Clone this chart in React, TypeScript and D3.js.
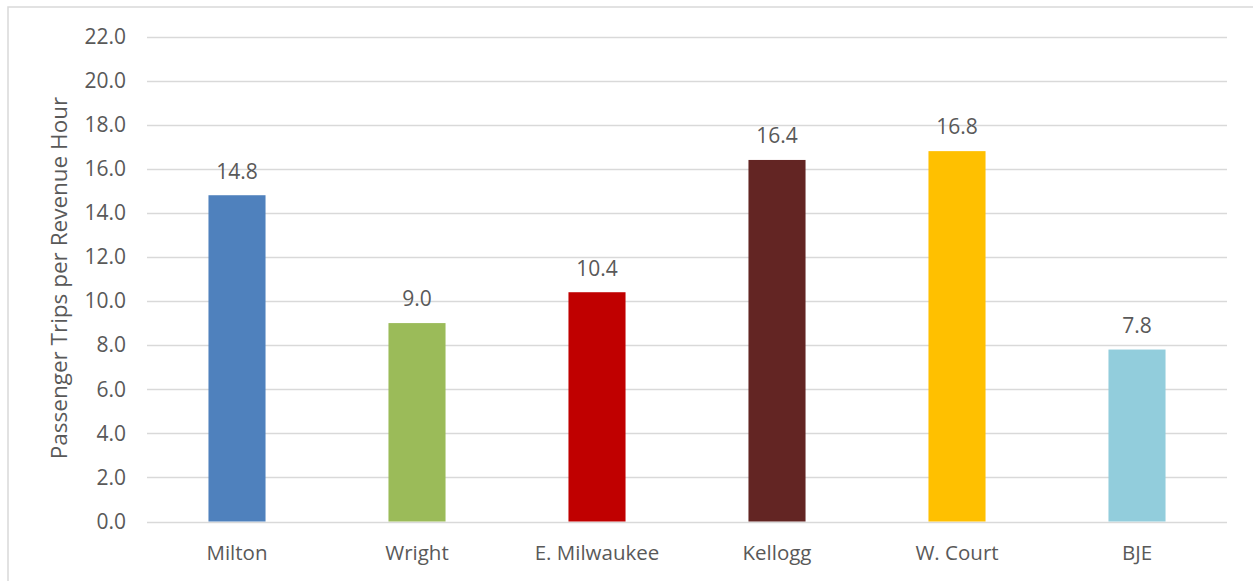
import React from "react";
import * as d3 from "d3";

const categories = ["Milton", "Wright", "E. Milwaukee", "Kellogg", "W. Court", "BJE"];
const values = [14.8, 9.0, 10.4, 16.4, 16.8, 7.8];
const colors = ["#4F81BD", "#9BBB59", "#C00000", "#632523", "#FFC000", "#92CDDC"];
const yTicks = [0, 2, 4, 6, 8, 10, 12, 14, 16, 18, 20, 22];
const yTitle = "Passenger Trips per Revenue Hour";

const W = 1253;
const H = 581;
const left = 147;
const right = 1227;
const top = 36.5;
const bottom = 521.5;
const FONT = "'Open Sans', sans-serif";
const TXT = "#595959";
const FS = 20.5;

export default function App() {
  const x = d3.scaleBand<string>().domain(categories).range([left, right]).paddingInner(0.683).paddingOuter(0.3415);
  const y = d3.scaleLinear().domain([0, 22]).range([bottom, top]);
  return (
    <svg width={W} height={H} style={{ position: "absolute", left: 0, top: 0 }}>
      <rect x={0} y={0} width={W} height={H} fill="#fff" />
      <rect x={8} y={7} width={W + 10} height={H + 10} fill="none" stroke="#D9D9D9" strokeWidth={1.5} />
      {yTicks.map((t) => (
        <g key={t}>
          <line x1={left} x2={right} y1={Math.round(y(t)) + 0.5} y2={Math.round(y(t)) + 0.5} stroke="#D9D9D9" strokeWidth={1.5} />
          <text x={126} y={y(t)} dy="0.35em" textAnchor="end" fontFamily={FONT} fontSize={FS + 0.5} fill={TXT}>
            {t.toFixed(1)}
          </text>
        </g>
      ))}
      {categories.map((c, i) => (
        <g key={c}>
          <rect x={x(c)!} y={y(values[i])} width={x.bandwidth()} height={y(0) - y(values[i])} fill={colors[i]} />
          <text x={x(c)! + x.bandwidth() / 2} y={y(values[i]) - 24} dy="0.35em" textAnchor="middle" fontFamily={FONT} fontSize={FS + 0.5} fill={TXT}>
            {values[i].toFixed(1)}
          </text>
          <text x={x(c)! + x.bandwidth() / 2} y={553} dy="0.35em" textAnchor="middle" fontFamily={FONT} fontSize={FS} fill={TXT}>
            {c}
          </text>
        </g>
      ))}
      <text transform={`translate(59,278) rotate(-90)`} dy="0.35em" textAnchor="middle" fontFamily={FONT} fontSize={22.5} fill={TXT}>
        {yTitle}
      </text>
    </svg>
  );
}
